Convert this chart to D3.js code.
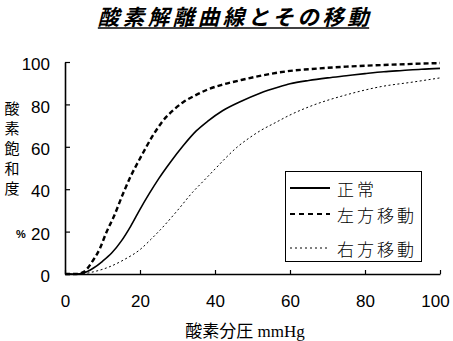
<!DOCTYPE html>
<html>
<head>
<meta charset="utf-8">
<script src="https://cdn.jsdelivr.net/npm/d3@7"></script>
<style>
  html, body { margin: 0; padding: 0; background: #fff; }
  svg { display: block; }
</style>
</head>
<body>
<svg id="chart" width="453" height="341"></svg>
<script>
// Oxygen partial pressure (mmHg) and saturation (%) for each curve
const normalP = [0, 3, 5, 7.5, 10, 12.5, 15, 17.5, 20, 22.5, 25, 28, 31.5, 35, 38, 42, 47, 52, 57, 60, 65, 70, 75, 80, 85, 90, 95, 100];
const normalS = [0, 0, 0.5, 2.7, 6, 10, 15.5, 22.5, 30.5, 38, 45, 52.5, 60.5, 67.5, 72, 77, 81.5, 85.3, 88.2, 89.7, 91.3, 92.5, 93.5, 94.5, 95.4, 96, 96.6, 97];

const leftP = [0, 3, 5, 7.5, 9.3, 11, 13, 15.5, 17.5, 20, 23.5, 26, 29, 31.5, 35, 38, 42, 47, 53, 60, 65, 75, 85, 100];
const leftS = [0, 0, 1, 6.5, 12, 19.5, 27, 38, 46, 54.5, 65.5, 72, 77.5, 81, 84.5, 87, 89.3, 91.5, 93.8, 95.8, 96.6, 97.8, 98.6, 99.5];

const rightP = [0, 4, 7.5, 12, 16, 20, 23, 25.5, 30, 34, 37, 40, 43, 46, 49, 52, 56, 60, 66, 75, 84, 93, 100];
const rightS = [0, 0, 1, 3.5, 7, 11.5, 16.5, 21, 30, 38.5, 44, 49.5, 55, 60, 64, 67.5, 71.3, 75, 79.5, 84.5, 88.3, 90.6, 92.5];

const xTicks = [0, 20, 40, 60, 80, 100];
const yTicks = [0, 20, 40, 60, 80, 100];

const seriesNames = ["正常", "左方移動", "右方移動"];
const titleText = "酸素解離曲線とその移動";
const yTitleChars = ["酸", "素", "飽", "和", "度"];
const xTitleText = "酸素分圧 mmHg";

const svg = d3.select("#chart");

const x = d3.scaleLinear().domain([0, 100]).range([65, 440]);
const y = d3.scaleLinear().domain([0, 100]).range([274, 62]);

const numFont = "'Liberation Sans', Arial, sans-serif";
const jpFont = "'Noto Sans CJK JP', sans-serif";

// line styles per series
const styles = [
  { width: 1.6, dash: null },
  { width: 2.4, dash: "5,3" },
  { width: 1, dash: "2,2.5" }
];

const series = [
  normalP.map((p, i) => [p, normalS[i]]),
  leftP.map((p, i) => [p, leftS[i]]),
  rightP.map((p, i) => [p, rightS[i]])
];

// Axes
const yAxis = d3.axisLeft(y).tickValues(yTicks).tickSizeInner(-5).tickSizeOuter(0).tickPadding(15);
const xAxis = d3.axisBottom(x).tickValues(xTicks).tickSizeInner(-4).tickSizeOuter(0).tickPadding(21);

const gy = svg.append("g").attr("transform", `translate(${x(0)},0)`).call(yAxis);
const gx = svg.append("g").attr("transform", `translate(0,${y(0)})`).call(xAxis);

[gx, gy].forEach(g => {
  g.select(".domain").attr("stroke", "#000").attr("stroke-width", 1.6);
  g.selectAll(".tick line").attr("stroke", "#000").attr("stroke-width", 1.2);
  g.selectAll(".tick text")
    .attr("fill", "#000")
    .style("font-family", numFont)
    .style("font-size", "17px");
});
gy.selectAll(".tick text").attr("dy", "0.45em");
gx.selectAll(".tick text").filter(d => d === 100).attr("dx", -5);

// Curves
const line = d3.line().x(d => x(d[0])).y(d => y(d[1])).curve(d3.curveMonotoneX);

series.forEach((s, i) => {
  svg.append("path")
    .datum(s)
    .attr("fill", "none")
    .attr("stroke", "#000")
    .attr("stroke-width", styles[i].width)
    .attr("stroke-dasharray", styles[i].dash)
    .attr("stroke-linejoin", "round")
    .attr("d", line);
});

// Title with underline
const title = svg.append("text")
  .attr("x", 235)
  .attr("y", 25)
  .attr("text-anchor", "middle")
  .style("font-family", jpFont)
  .style("font-size", "21.5px")
  .style("font-weight", "bold")
  .style("font-style", "italic")
  .style("letter-spacing", "3.5px")
  .attr("fill", "#000")
  .text(titleText);
const tb = title.node().getBBox();
svg.append("line")
  .attr("x1", tb.x).attr("x2", tb.x + tb.width - 3)
  .attr("y1", 28).attr("y2", 28)
  .attr("stroke", "#000").attr("stroke-width", 1.5);

// Vertical y-axis title
yTitleChars.forEach((c, i) => {
  svg.append("text")
    .attr("x", 12)
    .attr("y", 107 + i * 20)
    .attr("text-anchor", "middle")
    .attr("dominant-baseline", "central")
    .style("font-family", jpFont)
    .style("font-size", "15px")
    .attr("fill", "#000")
    .text(c);
});
svg.append("text")
  .attr("x", 21)
  .attr("y", 234)
  .attr("text-anchor", "middle")
  .attr("dominant-baseline", "central")
  .style("font-family", numFont)
  .style("font-size", "11px")
  .style("font-weight", "bold")
  .attr("fill", "#000")
  .text("%");

// X-axis title
svg.append("text")
  .attr("x", 245)
  .attr("y", 331)
  .attr("text-anchor", "middle")
  .attr("dominant-baseline", "central")
  .style("font-family", "'Liberation Serif', 'Noto Sans CJK JP', serif")
  .style("font-size", "17px")
  .attr("fill", "#000")
  .text(xTitleText);

// Legend
const legend = svg.append("g");
legend.append("rect")
  .attr("x", 285.5).attr("y", 171.5)
  .attr("width", 136).attr("height", 90)
  .attr("fill", "#fff").attr("stroke", "#000").attr("stroke-width", 1);

const rowY = [188, 214, 248];
seriesNames.forEach((name, i) => {
  legend.append("line")
    .attr("x1", 290).attr("x2", 330)
    .attr("y1", rowY[i]).attr("y2", rowY[i])
    .attr("stroke", "#000")
    .attr("stroke-width", i === 2 ? 1 : 2)
    .attr("stroke-dasharray", i === 0 ? null : (i === 1 ? "5,4" : "2,3"));
  legend.append("text")
    .attr("x", 337)
    .attr("y", rowY[i])
    .attr("dominant-baseline", "central")
    .style("font-family", jpFont)
    .style("font-size", "17px")
    .style("font-weight", 300)
    .style("letter-spacing", "3px")
    .attr("fill", "#000")
    .text(name);
});
</script>
</body>
</html>
